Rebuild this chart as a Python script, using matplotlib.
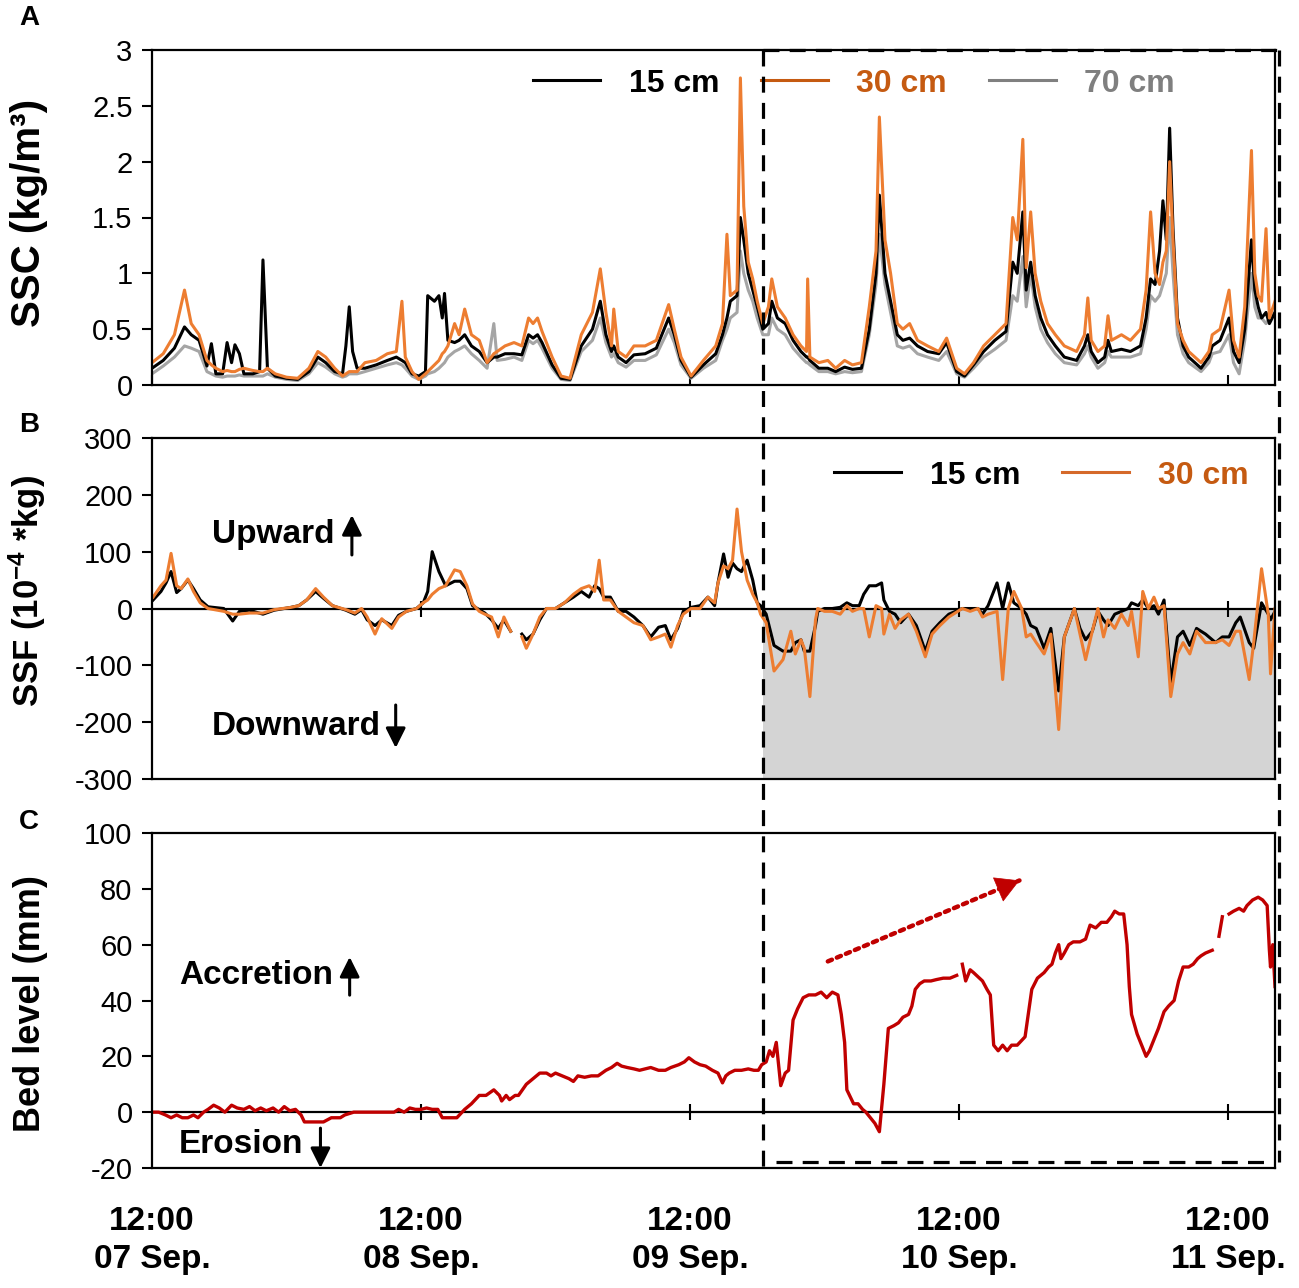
import numpy as np
import matplotlib.pyplot as plt
from matplotlib.lines import Line2D
from matplotlib.ticker import FuncFormatter

plt.rcParams['font.family'] = ['Liberation Sans', 'DejaVu Sans']
plt.rcParams['mathtext.default'] = 'regular'
plt.rcParams['axes.unicode_minus'] = False

# ---- time axis: hours after 07 Sep 12:00 ----
day_ticks = [0, 24, 48, 72, 96]
day_labels = ['12:00\n07 Sep.', '12:00\n08 Sep.', '12:00\n09 Sep.',
              '12:00\n10 Sep.', '12:00\n11 Sep.']
t_split = 54.5   # start of the highlighted period
t_end = 100.2

# ---- (A) SSC, kg/m3 ----
t_ssc = [0, 1, 2, 2.9, 3.5, 4.2, 4.9, 5.3, 5.7, 6.3,
         6.7, 7.1, 7.4, 7.8, 8.2, 9.0, 9.6, 9.9, 10.3, 11,
         12, 13, 14, 14.8, 15.5, 16.3, 17.0, 17.3, 17.6, 17.9,
         18.3, 19.0, 20, 21, 21.8, 22.3, 22.6, 23.2, 23.8, 24.4,
         24.6, 25.2, 25.6, 25.9, 26.1, 26.4, 27.0, 27.4, 27.9, 28.5,
         29.2, 29.9, 30.5, 30.8, 31.5, 32.3, 33.0, 33.6, 34.0, 34.4,
         34.8, 35.7, 36.5, 37.3, 38.3, 39.3, 40.0, 40.5, 41.0, 41.2,
         41.6, 42.3, 43.0, 44.0, 45.0, 46.1, 46.6, 47.2, 48.1, 49.2,
         50.3, 50.9, 51.3, 51.6, 52.2, 52.5, 52.8, 53.2, 53.6, 54.0,
         54.5, 55.0, 55.3, 55.8, 56.5, 57.2, 57.9, 58.4, 58.5, 58.7,
         59.5, 60.3, 61.0, 61.8, 62.5, 63.3, 64.0, 64.6, 64.9, 65.4,
         65.9, 66.5, 67.0, 67.6, 68.3, 69.2, 70.2, 70.9, 71.8, 72.5,
         73.3, 74.2, 75.2, 76.2, 76.8, 77.2, 77.7, 78.0, 78.4, 78.8,
         79.3, 79.9, 80.6, 81.4, 82.5, 83.2, 83.5, 83.8, 84.4, 85.0,
         85.3, 85.6, 86.5, 87.3, 88.2, 88.7, 89.1, 89.5, 89.9, 90.2,
         90.5, 90.8, 91.1, 91.5, 92.0, 92.5, 93.6, 94.3, 94.6, 95.3,
         96.1, 96.5, 97.0, 97.5, 98.1, 98.4, 98.7, 99.0, 99.4, 99.7,
         100.2]
ssc_30 = [.20, .28, .45, .85, .55, .45, .22, .18, .15, .12,
          .13, .12, .12, .14, .15, .13, .12, .12, .15, .10,
          .07, .06, .15, .30, .25, .15, .08, .10, .12, .12,
          .12, .20, .22, .28, .30, .75, .25, .12, .05, .10,
          .12, .18, .22, .28, .30, .35, .55, .45, .68, .45,
          .40, .20, .28, .30, .35, .38, .35, .60, .55, .60,
          .48, .25, .08, .06, .45, .65, 1.04, .65, .35, .68,
          .30, .25, .35, .35, .40, .72, .50, .25, .08, .22,
          .35, .55, 1.35, .80, .85, 2.75, 1.60, 1.10, .95, .75,
          .55, .70, .95, .70, .60, .45, .35, .30, .95, .25,
          .20, .22, .15, .22, .18, .20, .70, 1.20, 2.40, 1.30,
          1.00, .55, .50, .55, .40, .35, .30, .42, .15, .10,
          .20, .35, .45, .55, 1.50, 1.30, 2.20, 1.05, 1.55, 1.00,
          .75, .55, .45, .35, .30, .45, .78, .40, .30, .35,
          .62, .40, .45, .40, .50, .85, 1.55, 1.00, .90, 1.10,
          1.20, 2.00, 1.30, .55, .40, .30, .20, .30, .45, .50,
          .85, .40, .25, .70, 2.10, 1.00, .80, .75, 1.40, .60,
          .75]
ssc_15 = [.15, .22, .33, .52, .45, .40, .17, .37, .10, .10,
          .38, .20, .36, .28, .10, .10, .12, 1.12, .15, .08,
          .06, .05, .12, .25, .20, .12, .10, .35, .70, .30,
          .15, .15, .18, .22, .25, .22, .20, .10, .08, .12,
          .80, .75, .80, .60, .82, .40, .38, .40, .45, .35,
          .30, .20, .25, .25, .28, .28, .27, .45, .42, .45,
          .38, .18, .06, .05, .35, .50, .75, .45, .30, .35,
          .25, .20, .27, .28, .33, .60, .45, .22, .07, .18,
          .28, .45, .60, .75, .80, 1.50, 1.30, 1.00, .85, .70,
          .50, .55, .75, .60, .55, .40, .30, .25, .25, .22,
          .15, .15, .12, .16, .14, .15, .50, 1.00, 1.70, 1.00,
          .75, .45, .40, .42, .35, .30, .28, .38, .12, .08,
          .18, .30, .40, .48, 1.10, 1.00, 1.55, .85, 1.10, .80,
          .60, .45, .35, .25, .22, .35, .45, .30, .20, .25,
          .40, .30, .32, .30, .35, .60, .95, .90, 1.20, 1.65,
          1.30, 2.30, 1.40, .60, .35, .25, .15, .25, .35, .40,
          .60, .30, .20, .50, 1.30, .85, .70, .60, .65, .55,
          .65]
ssc_70 = [.10, .17, .25, .35, .33, .30, .12, .10, .08, .07,
          .08, .08, .08, .09, .08, .08, .08, .08, .10, .07,
          .05, .04, .10, .20, .16, .10, .07, .08, .10, .10,
          .10, .12, .15, .18, .20, .18, .15, .08, .05, .08,
          .10, .12, .15, .18, .20, .25, .30, .32, .35, .28,
          .22, .15, .55, .22, .23, .25, .22, .40, .37, .40,
          .33, .15, .05, .04, .30, .40, .60, .38, .25, .28,
          .20, .16, .22, .22, .27, .50, .38, .18, .06, .15,
          .22, .40, .50, .60, .65, 1.20, 1.00, .85, .75, .60,
          .45, .45, .60, .50, .45, .33, .25, .20, .20, .18,
          .12, .12, .10, .12, .11, .12, .45, .90, 1.35, .90,
          .65, .35, .33, .35, .28, .25, .22, .30, .10, .07,
          .15, .25, .32, .40, .80, .75, 1.15, .70, 1.00, .70,
          .50, .38, .28, .20, .18, .28, .35, .25, .15, .20,
          .30, .25, .25, .25, .28, .50, .80, .75, .80, .90,
          1.00, 1.50, 1.00, .45, .28, .20, .12, .20, .28, .30,
          .45, .20, .10, .40, 1.00, .70, .60, .60, .55, .60,
          .65]

# ---- (B) SSF, 1e-4 kg ----
nan = np.nan
t_ssf = [0.1, 0.8, 1.25, 1.7, 2.2, 2.6, 3.2, 3.7, 4.3, 5.0,
         6.4, 7.2, 7.8, 8.7, 9.9, 10.9, 12.4, 13.1, 13.8, 14.6,
         15.3, 16.1, 17.3, 18.1, 18.7, 19.2, 19.9, 20.5, 21.4, 22.0,
         22.7, 23.6, 24.2, 24.6, 25.0, 25.6, 26.2, 27.0, 27.5, 28.1,
         28.6, 29.2, 29.7, 30.3, 30.9, 31.4, 32.0, 32.5, 33.0, 33.4,
         34.0, 34.6, 35.2, 36.0, 36.8, 37.6, 38.3, 39.0, 39.5, 39.9,
         40.3, 40.9, 41.6, 42.3, 43.0, 43.8, 44.5, 45.2, 45.8, 46.3,
         46.9, 47.4, 48.1, 48.9, 49.6, 50.2, 50.5, 51.0, 51.4, 51.8,
         52.2, 52.6, 53.1, 53.6, 54.0, 54.3, 54.8, 55.5, 56.3, 57.0,
         57.4, 57.9, 58.2, 58.7, 59.2, 59.4, 60.0, 60.7, 61.4, 62.0,
         62.5, 63.1, 63.5, 64.0, 64.6, 65.1, 65.3, 65.8, 66.3, 66.8,
         67.5, 68.2, 69.0, 69.6, 70.3, 71.1, 72.3, 73.0, 73.7, 74.1,
         74.6, 75.4, 75.9, 76.4, 76.9, 77.6, 78.0, 78.4, 78.9, 79.6,
         80.2, 80.9, 81.4, 82.3, 82.8, 83.3, 83.9, 84.4, 84.9, 85.3,
         85.9, 86.5, 87.1, 87.4, 88.0, 88.4, 88.9, 89.4, 89.8, 90.3,
         90.9, 91.5, 92.0, 92.6, 93.2, 94.0, 94.9, 95.5, 96.1, 96.7,
         97.1, 97.9, 98.3, 99.0, 99.6, 99.8, 100.2]
ssf_30 = [20, 40, 50, 97, 40, 35, 52, 30, 10, 0,
          -5, -10, -10, -8, -8, -2, 2, 5, 15, 35,
          20, 5, -2, -8, 0, -15, -45, -18, -35, -15,
          -5, 0, 10, 15, 25, 35, 40, 68, 65, 40,
          8, -5, -10, -15, -50, -15, -40, nan, -50, -70,
          -45, -15, 0, 0, 10, 25, 35, 40, 30, 85,
          15, 15, -5, -15, -25, -30, -55, -50, -45, -68,
          -30, -10, 0, 0, 20, 10, 45, 75, 70, 85,
          175, 100, 50, 25, 10, -10, -25, -110, -90, -40,
          -80, -55, -70, -155, -20, 0, -5, -5, -10, 5,
          -5, 0, 0, -50, 5, 0, -45, -10, -35, -20,
          -10, -40, -85, -45, -30, -15, 0, -5, 0, -15,
          -10, -5, -125, 0, 30, 0, -50, -45, -60, -80,
          -45, -213, -50, 0, -45, -90, -40, 0, -50, -20,
          -35, -10, -30, -5, -85, 30, 0, 20, 0, 5,
          -155, -80, -60, -80, -40, -60, -60, -55, -65, -40,
          -40, -125, -60, 70, -10, -115, 0]
ssf_15 = [15, 30, 45, 65, 28, 35, 50, 35, 15, 3,
          0, -22, -5, -3, -10, -3, 2, 5, 15, 30,
          18, 5, -3, -10, -2, -20, -30, -20, -30, -12,
          -5, 0, 10, 30, 100, 65, 40, 48, 48, 35,
          5, -2, -8, -20, -35, -20, -40, nan, -45, -55,
          -45, -20, 0, 0, 10, 20, 30, 20, 40, 35,
          20, 20, -5, -5, -15, -30, -50, -33, -30, -55,
          -35, -5, 2, 5, 20, 5, 45, 96, 55, 80,
          70, 65, 85, 50, 10, 5, -10, -65, -75, -75,
          -60, -55, -75, -75, -30, -5, 0, 0, 2, 10,
          5, 5, 25, 40, 40, 45, 15, -5, -10, -25,
          -10, -30, -75, -40, -25, -10, 0, 0, 0, -10,
          5, 45, 0, 45, 10, 0, -10, -30, -35, -70,
          -35, -145, -50, 0, -35, -55, -40, -5, -20, -30,
          -10, -5, 0, 10, 5, 15, 0, 5, -10, 15,
          -130, -50, -40, -65, -35, -45, -60, -50, -50, -25,
          -15, -60, -70, 10, -10, -20, -5]

# ---- (C) bed level, mm ----
t_bed = [0, 0.6, 1.2, 1.7, 2.2, 2.7, 3.2, 3.7, 4.1, 4.6,
         5.0, 5.5, 6.0, 6.5, 7.1, 7.6, 8.2, 8.7, 9.2, 9.7,
         10.2, 10.8, 11.3, 11.8, 12.3, 12.8, 13.3, 13.6, 14.5, 15.3,
         16.0, 16.8, 17.2, 18.0, 18.7, 19.5, 20.3, 21.0, 21.6, 22.0,
         22.5, 23.0, 23.5, 24.0, 24.5, 25.0, 25.5, 25.9, 26.5, 27.2,
         27.9, 28.5, 29.2, 29.8, 30.5, 31.0, 31.2, 31.6, 31.9, 32.4,
         32.7, 33.4, 34.0, 34.6, 35.2, 35.6, 36.0, 36.6, 37.2, 37.6,
         38.0, 38.6, 39.2, 39.8, 40.5, 41.0, 41.5, 41.9, 42.4, 43.0,
         43.5, 44.0, 44.5, 45.2, 45.8, 46.3, 47.0, 47.5, 47.9, 48.4,
         48.9, 49.4, 50.0, 50.5, 50.9, 51.2, 51.5, 52.0, 52.6, 53.2,
         53.7, 54.1, 54.4, 54.8, 55.1, 55.4, 55.7, 56.1, 56.5, 56.8,
         57.2, 57.6, 58.1, 58.6, 59.2, 59.7, 60.2, 60.7, 61.2, 61.5,
         61.8, 62.0, 62.6, 63.0, 63.4, 63.7, 64.1, 64.5, 64.9, 65.3,
         65.7, 66.2, 66.6, 67.0, 67.5, 67.8, 68.1, 68.5, 68.9, 69.5,
         70.0, 70.6, 71.2, 71.8, 72.1, 72.3, 72.6, 73.0, 73.3, 74.1,
         74.5, 74.8, 75.1, 75.5, 75.9, 76.3, 76.7, 77.2, 77.9, 78.5,
         79.0, 79.6, 80.0, 80.3, 80.6, 80.9, 81.1, 81.4, 81.8, 82.2,
         82.8, 83.3, 83.7, 84.2, 84.7, 85.2, 85.6, 85.9, 86.3, 86.7,
         87.0, 87.2, 87.4, 87.9, 88.3, 88.7, 89.0, 89.4, 89.8, 90.3,
         90.7, 91.2, 91.6, 92.0, 92.5, 92.9, 93.3, 93.6, 94.0, 94.6,
         94.9, 95.2, 95.5, 95.8, 96.1, 96.5, 97.0, 97.4, 97.7, 98.2,
         98.7, 99.1, 99.5, 99.7, 99.8, 100.0, 100.2]
bed = [0, 0, -1, -2, -1, -2, -2, -1, -2, 0,
       1, 2.5, 1.5, 0, 2.5, 1.5, 1, 2, 0.5, 1.5,
       0.5, 1.5, 0, 2, 0.5, 1, -1, -3.5, -3.5, -3.5,
       -2, -2, -1, 0, 0, 0, 0, 0, 0, 1,
       0, 1.5, 1, 1, 1.5, 1, 1, -2, -2, -2,
       1, 3, 6, 6, 8, 6, 4, 6, 4.5, 6,
       6, 10, 12, 14, 14, 13, 14, 13, 12, 11,
       13, 12.5, 13, 13, 15, 16, 17.5, 16.5, 16, 15.5,
       15, 15.5, 16, 15, 15, 16, 17, 18, 19.5, 18,
       17, 16.5, 15, 14, 10.5, 13, 14, 15, 15, 15.5,
       15, 15, 17, 18, 22, 20, 25, 9.5, 14, 15,
       33, 37, 41, 42, 42, 43, 41, 43, 42, 35,
       25, 8, 3, 3, 1, 0, -2, -4, -7, 10,
       30, 31, 32, 34, 35, 38, 44, 46, 47, 47,
       47.5, 48, 48, 49, nan, 53, 47, 51, 50, 47,
       44, 42, 24, 22, 24, 22, 24, 24, 27, 44,
       48, 50, 52, 53, 57, 60, 55, 57, 60, 61,
       61, 62, 67, 66, 68, 68, 70, 72, 71, 71,
       60, 45, 35, 28, 24, 20, 22, 26, 30, 36,
       38, 40, 47, 52, 52, 53, 55, 56, 57, 58,
       nan, 63, 70, nan, 71, 72, 73, 72, 74, 76,
       77, 76, 74, 58, 52, 60, 45]

# dotted trend arrow in (C): start and end (hours, mm)
trend_start = (60.3, 54)
trend_end = (77.4, 83)

c_black = '#000000'
c_orange = '#ED7D31'
c_gray = '#A5A5A5'
c_red = '#C00000'
c_leg_orange = '#C55A11'
c_leg_gray = '#7F7F7F'

W, H = 1299, 1288
fig = plt.figure(figsize=(W / 100, H / 100), dpi=100)


def box(top, bottom):
    # pixel rows of the reference -> figure fraction
    return [152 / W, 1 - bottom / H, 1123 / W, (bottom - top) / H]


ax_a = fig.add_axes(box(50, 385))
ax_b = fig.add_axes(box(438, 779))
ax_c = fig.add_axes(box(833, 1168))

fmt = FuncFormatter(lambda v, p: f'{v:g}')
for ax in (ax_a, ax_b, ax_c):
    ax.set_xlim(0, t_end)
    ax.set_xticks(day_ticks)
    for s in ax.spines.values():
        s.set_linewidth(1.6)
    ax.tick_params(axis='y', direction='out', length=7, width=1.5,
                   labelsize=21, pad=7)
    ax.yaxis.set_major_formatter(fmt)

# ---- A ----
ax_a.plot(t_ssc, ssc_70, color=c_gray, lw=2.2)
ax_a.plot(t_ssc, ssc_15, color=c_black, lw=2.2)
ax_a.plot(t_ssc, ssc_30, color=c_orange, lw=2.2)
ax_a.set_ylim(0, 3)
ax_a.set_yticks([0, 0.5, 1, 1.5, 2, 2.5, 3])
ax_a.tick_params(axis='x', direction='in', length=7, width=1.5,
                 labelbottom=False)
ax_a.set_ylabel('SSC (kg/m³)', fontsize=29, fontweight='bold')
hA = [Line2D([], [], color=c_black, lw=2.2),
      Line2D([], [], color=c_leg_orange, lw=2.2),
      Line2D([], [], color='#808080', lw=2.2)]
ax_a.legend(hA, ['15 cm', '30 cm', '70 cm'], ncol=3, loc='center',
            bbox_to_anchor=(0.625, 0.90), frameon=False,
            prop={'weight': 'bold', 'size': 23}, handlelength=2.1,
            handletextpad=0.9, columnspacing=1.3,
            labelcolor=[c_black, c_leg_orange, c_leg_gray])

# ---- B ----
ax_b.fill_between([t_split, t_end], -300, 0, color='#D4D4D4', lw=0, zorder=0.5)
ax_b.axhline(0, color='k', lw=1.6, zorder=1.5)
ax_b.plot(day_ticks[1:], np.zeros(4), ls='none', marker='|', ms=11,
          mew=1.5, color='k')
ax_b.plot(t_ssf, ssf_15, color=c_black, lw=2.2)
ax_b.plot(t_ssf, ssf_30, color=c_orange, lw=2.2)
ax_b.set_ylim(-300, 300)
ax_b.set_yticks(range(-300, 301, 100))
ax_b.tick_params(axis='x', length=0, labelbottom=False)
ax_b.set_ylabel('SSF (10$^{-4}$ *kg)', fontsize=25, fontweight='bold')
hB = [Line2D([], [], color=c_black, lw=2.2),
      Line2D([], [], color='#D5692A', lw=2.2)]
ax_b.legend(hB, ['15 cm', '30 cm'], ncol=2, loc='center',
            bbox_to_anchor=(0.792, 0.89), frameon=False,
            prop={'weight': 'bold', 'size': 23}, handlelength=2.1,
            handletextpad=0.9, columnspacing=1.3,
            labelcolor=[c_black, c_leg_orange])

# ---- C ----
ax_c.axhline(0, color='k', lw=1.6, zorder=1.5)
ax_c.plot(day_ticks[1:], np.zeros(4), ls='none', marker='|', ms=11,
          mew=1.5, color='k')
ax_c.plot(t_bed, bed, color=c_red, lw=2.4)
ax_c.set_ylim(-20, 100)
ax_c.set_yticks(range(-20, 101, 20))
ax_c.tick_params(axis='x', length=0, pad=27, labelsize=24)
ax_c.set_xticklabels(day_labels, fontweight='bold', linespacing=1.3)
ax_c.set_ylabel('Bed level (mm)', fontsize=26, fontweight='bold')

# trend arrow: dotted shaft plus a solid head at its end
ax_c.annotate('', xy=trend_end, xytext=trend_start,
              arrowprops=dict(arrowstyle='-', color=c_red, lw=3.2,
                              linestyle=(0, (1, 1.2)), shrinkA=0, shrinkB=0))
head_from = (trend_start[0] + 0.9 * (trend_end[0] - trend_start[0]),
             trend_start[1] + 0.9 * (trend_end[1] - trend_start[1]))
ax_c.annotate('', xy=trend_end, xytext=head_from,
              arrowprops=dict(arrowstyle='-|>,head_length=0.8,head_width=0.45',
                              color=c_red, lw=0.5, mutation_scale=20,
                              shrinkA=0, shrinkB=0))

ax_a.yaxis.set_label_coords(-0.093, 0.515)
ax_b.yaxis.set_label_coords(-0.093, 0.55)
ax_c.yaxis.set_label_coords(-0.093, 0.49)


def note(ax, x, y, txt, ax_x, y0, y1):
    ax.text(x, y, txt, transform=ax.transAxes, fontsize=24,
            fontweight='bold', ha='left', va='center')
    ax.annotate('', xy=(ax_x, y1), xytext=(ax_x, y0), xycoords='axes fraction',
                arrowprops=dict(arrowstyle='-|>,head_length=0.6,head_width=0.3',
                                color='k', lw=2.2, mutation_scale=20,
                                shrinkA=0, shrinkB=0))


note(ax_b, 0.053, 0.716, 'Upward', 0.178, 0.657, 0.774)
note(ax_b, 0.053, 0.155, 'Downward', 0.217, 0.217, 0.091)
note(ax_c, 0.024, 0.576, 'Accretion', 0.176, 0.516, 0.630)
note(ax_c, 0.024, 0.069, 'Erosion', 0.150, 0.119, 0.0)

# panel letters
for lab, py in (('A', 18), ('B', 425), ('C', 822)):
    fig.text(19 / W, 1 - py / H, lab, fontsize=20, fontweight='bold',
             va='center', ha='left')

# dashed frame around the period after t_split
to_fig = fig.transFigure.inverted()
x_left = to_fig.transform(ax_c.transData.transform((t_split, 0)))[0]
x_right = ax_a.get_position().x1 + 4 / W
y_top = ax_a.get_position().y1
y_low = ax_c.get_position().y0 - 2 / H
y_bot = to_fig.transform(ax_c.transData.transform((0, -18)))[1]
dash = dict(transform=fig.transFigure, color='k', lw=2.3, dashes=(5, 3.2))
fig.add_artist(Line2D([x_left, x_left], [y_top, y_low], **dash))
fig.add_artist(Line2D([x_right, x_right], [y_top, y_bot], **dash))
fig.add_artist(Line2D([x_left, x_right], [y_top, y_top], **dash))
fig.add_artist(Line2D([x_left + 13 / W, x_right - 12 / W], [y_bot, y_bot], **dash))

fig.savefig('out.png', dpi=100)
